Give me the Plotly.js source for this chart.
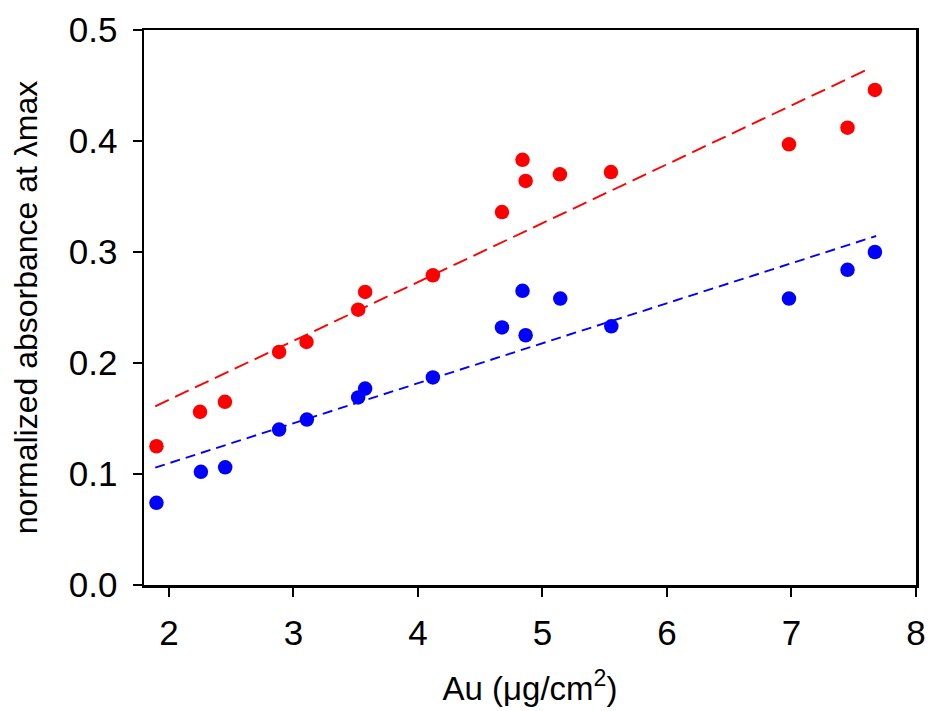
<!DOCTYPE html>
<html>
<head>
<meta charset="utf-8">
<script src="https://cdn.plot.ly/plotly-3.0.1.min.js"></script>
<style>html,body{margin:0;padding:0;background:#fff;}#chart{width:930px;height:711px;}</style>
</head>
<body>
<div id="chart"></div>
<script>
// Red series (measured points)
const redX = [1.90, 2.25, 2.45, 2.885, 3.105, 3.52, 3.576, 4.12, 4.675, 4.84, 4.865, 5.14, 5.55, 6.98, 7.45, 7.67];
const redY = [0.125, 0.156, 0.165, 0.210, 0.219, 0.248, 0.264, 0.279, 0.336, 0.383, 0.364, 0.370, 0.372, 0.397, 0.412, 0.446];
// Blue series (measured points)
const blueX = [1.90, 2.257, 2.452, 2.885, 3.108, 3.52, 3.576, 4.12, 4.675, 4.84, 4.865, 5.143, 5.553, 6.98, 7.45, 7.67];
const blueY = [0.074, 0.102, 0.106, 0.140, 0.149, 0.169, 0.177, 0.187, 0.232, 0.265, 0.225, 0.258, 0.233, 0.258, 0.284, 0.300];
// Fit line endpoints
const redFitX = [1.89, 7.64];
const redFitY = [0.161, 0.466];
const blueFitX = [1.89, 7.68];
const blueFitY = [0.1057, 0.3144];

const font = "Liberation Sans, Arial, sans-serif";

const traces = [
  {x: redFitX, y: redFitY, mode: 'lines', line: {color: '#ff0000', width: 1.9, dash: '15px,7px'}, hoverinfo: 'skip'},
  {x: blueFitX, y: blueFitY, mode: 'lines', line: {color: '#0000ff', width: 1.9, dash: '10px,6px'}, hoverinfo: 'skip'},
  {x: redX, y: redY, mode: 'markers', marker: {color: '#ff0000', size: 14.5}},
  {x: blueX, y: blueY, mode: 'markers', marker: {color: '#0000ff', size: 14.5}}
];

const layout = {
  width: 930, height: 711,
  margin: {l: 144, r: 14, t: 30, b: 126},
  paper_bgcolor: '#fff', plot_bgcolor: '#fff',
  showlegend: false,
  font: {family: font, color: '#000'},
  xaxis: {
    range: [1.8, 8], dtick: 1, tick0: 0,
    showgrid: false, zeroline: false,
    showline: true, linecolor: '#000', linewidth: 2.5, mirror: true,
    ticks: 'outside', ticklen: 9, tickwidth: 2, tickcolor: '#000',
    tickfont: {size: 35, family: font, color: '#000'},
    ticklabelstandoff: 6,
    title: {text: 'Au (μg/cm<sup>2</sup>)', font: {size: 33, family: font, color: '#000'}, standoff: 27}
  },
  yaxis: {
    range: [0, 0.5], dtick: 0.1, tick0: 0, tickformat: '.1f',
    showgrid: false, zeroline: false,
    showline: true, linecolor: '#000', linewidth: 2.5, mirror: true,
    ticks: 'outside', ticklen: 9, tickwidth: 2, tickcolor: '#000',
    tickfont: {size: 35, family: font, color: '#000'},
    ticklabelstandoff: 8,
    title: {text: 'normalized absorbance at λmax', font: {size: 32, family: font, color: '#000'}, standoff: 22}
  }
};

Plotly.newPlot('chart', traces, layout, {staticPlot: true, displayModeBar: false});
</script>
</body>
</html>
